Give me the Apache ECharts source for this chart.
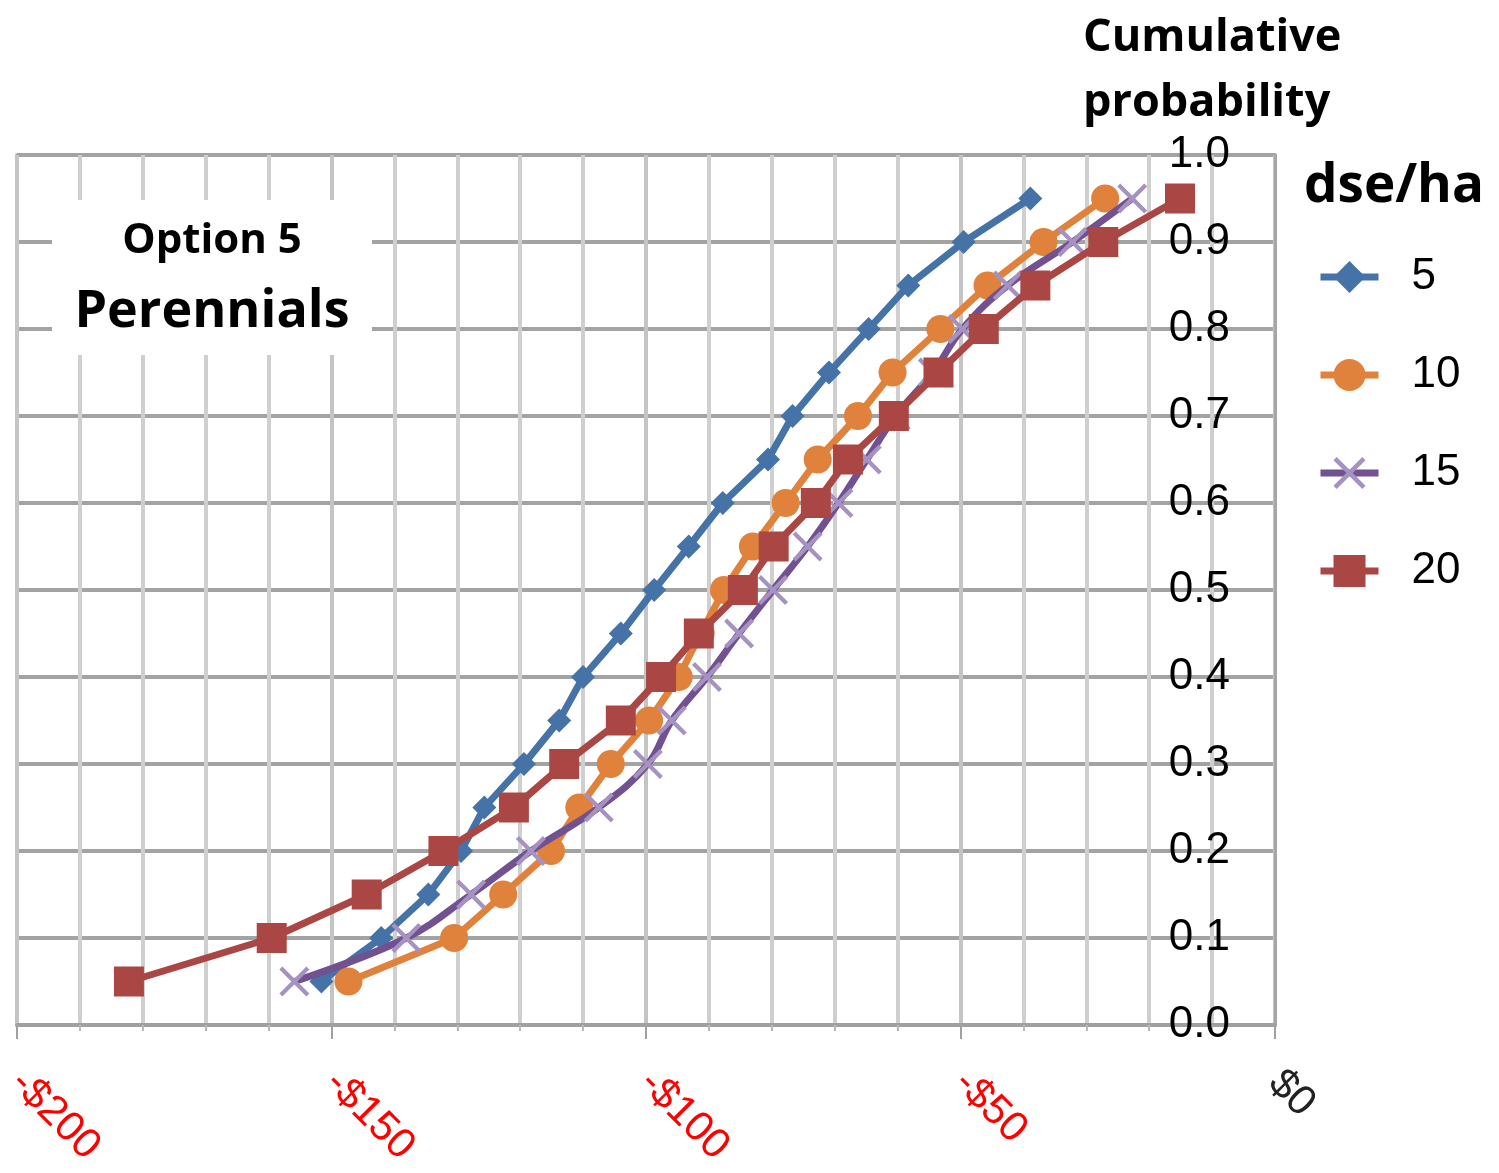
<!DOCTYPE html>
<html>
<head>
<meta charset="utf-8">
<script src="https://cdn.jsdelivr.net/npm/echarts@6/dist/echarts.min.js"></script>
<style>
html,body{margin:0;padding:0;background:#fff;}
#chart{width:1499px;height:1173px;}
</style>
</head>
<body>
<div id="chart"></div>
<script>
// Cumulative probabilities (y)
const probs = [0.05,0.10,0.15,0.20,0.25,0.30,0.35,0.40,0.45,0.50,0.55,0.60,0.65,0.70,0.75,0.80,0.85,0.90,0.95];
// Dollar values (x) for each stocking rate (dse/ha)
const dse5  = [-151.6,-142.1,-134.6,-129.4,-125.7,-119.4,-113.8,-110.0,-104.0,-98.7,-93.2,-87.8,-80.6,-76.7,-70.9,-64.6,-58.3,-49.5,-38.9];
const dse10 = [-147.3,-130.5,-122.7,-115.1,-110.6,-105.6,-99.5,-94.8,-91.3,-87.6,-83.0,-77.8,-72.7,-66.3,-60.8,-53.2,-45.7,-36.8,-27.0];
const dse15 = [-155.9,-138.1,-127.8,-118.3,-107.5,-99.7,-95.9,-90.3,-85.2,-79.8,-74.3,-69.4,-64.9,-60.3,-54.4,-49.7,-42.5,-32.2,-22.7];
const dse20 = [-182.2,-159.5,-144.4,-132.2,-121.0,-113.0,-104.0,-97.6,-91.6,-84.6,-79.7,-73.0,-67.9,-60.6,-53.5,-46.3,-38.1,-27.3,-15.1];
const seriesNames = ['5','10','15','20'];
const xTickLabels = {'-200':'-$200','-150':'-$150','-100':'-$100','-50':'-$50','0':'$0'};

const pairs = arr => arr.map((v,i)=>[v, probs[i]]);
const xPath = 'path://M0,1 L1,0 L5,4 L9,0 L10,1 L6,5 L10,9 L9,10 L5,6 L1,10 L0,9 L4,5 Z';

const chart = echarts.init(document.getElementById('chart'), null, {renderer:'canvas'});
const option = {
  backgroundColor:'#fff',
  animation:false,
  grid:{left:15, right:224, top:155, bottom:148, show:true, borderColor:'#a6a6a6', borderWidth:3, backgroundColor:'transparent'},
  xAxis:{
    type:'value', min:-200, max:0, interval:50,
    axisLine:{show:true, onZero:false, lineStyle:{color:'#a0a0a0', width:4}},
    axisTick:{show:true, length:14, lineStyle:{color:'#a0a0a0', width:2}},
    minorTick:{show:true, splitNumber:5, length:6, lineStyle:{color:'#b8b8b8', width:2}},
    splitLine:{show:true, lineStyle:{color:'#c4c4c4', width:4}},
    minorSplitLine:{show:true, lineStyle:{color:'#cfcfcf', width:4}},
    axisLabel:{
      rotate:-45, margin:52, fontFamily:'Liberation Sans', fontSize:42,
      formatter: v => xTickLabels[String(v)] || '',
      color: v => (Number(v) < 0 ? '#ff0000' : '#222222')
    }
  },
  yAxis:{
    type:'value', min:0, max:1, interval:0.1, position:'right',
    axisLine:{show:true, lineStyle:{color:'#a6a6a6', width:3}},
    axisTick:{show:false},
    splitLine:{show:true, lineStyle:{color:'#a3a3a3', width:4}},
    axisLabel:{inside:true, margin:45, fontFamily:'Liberation Sans', fontSize:44, color:'#000',
      formatter: v => Number(v).toFixed(1)}
  },
  legend:{
    orient:'vertical', left:1312, top:250, itemWidth:58, itemHeight:40, itemGap:54,
    data:seriesNames,
    lineStyle:{width:7},
    textStyle:{fontFamily:'Liberation Sans', fontSize:44, color:'#000', padding:[0,0,0,28]}
  },
  series:[
    {name:'5', type:'line', data:pairs(dse5), symbol:'diamond', symbolSize:24,
     lineStyle:{color:'#4572a7', width:7}, itemStyle:{color:'#4572a7'}, z:2},
    {name:'10', type:'line', data:pairs(dse10), symbol:'circle', symbolSize:28,
     lineStyle:{color:'#e0823b', width:7}, itemStyle:{color:'#e0823b'}, z:3},
    {name:'15', type:'line', data:pairs(dse15), symbol:xPath, symbolSize:30, smooth:0.4,
     lineStyle:{color:'#71518f', width:7}, itemStyle:{color:'#a592c2'}, z:4},
    {name:'20', type:'line', data:pairs(dse20), symbol:'rect', symbolSize:30,
     lineStyle:{color:'#aa4643', width:7}, itemStyle:{color:'#aa4643'}, z:5}
  ],
  graphic:[
    {type:'rect', left:52, top:200, shape:{width:320, height:155}, style:{fill:'#fff'}, z:10},
    {type:'text', style:{text:'Option 5', x:212, y:241, textAlign:'center', textVerticalAlign:'middle', font:'bold 42px "Open Sans"', fill:'#000'}, z:11},
    {type:'text', style:{text:'Perennials', x:212, y:312, textAlign:'center', textVerticalAlign:'middle', font:'bold 52px "Open Sans"', fill:'#000'}, z:11},
    {type:'text', style:{text:'Cumulative', x:1083, y:38, textAlign:'left', textVerticalAlign:'middle', font:'bold 45px "Open Sans"', fill:'#000'}, z:11},
    {type:'text', style:{text:'probability', x:1083, y:103, textAlign:'left', textVerticalAlign:'middle', font:'bold 45px "Open Sans"', fill:'#000'}, z:11},
    {type:'text', style:{text:'dse/ha', x:1304, y:187, textAlign:'left', textVerticalAlign:'middle', font:'bold 53px "Open Sans"', fill:'#000'}, z:11}
  ]
};
chart.setOption(option);
</script>
</body>
</html>
